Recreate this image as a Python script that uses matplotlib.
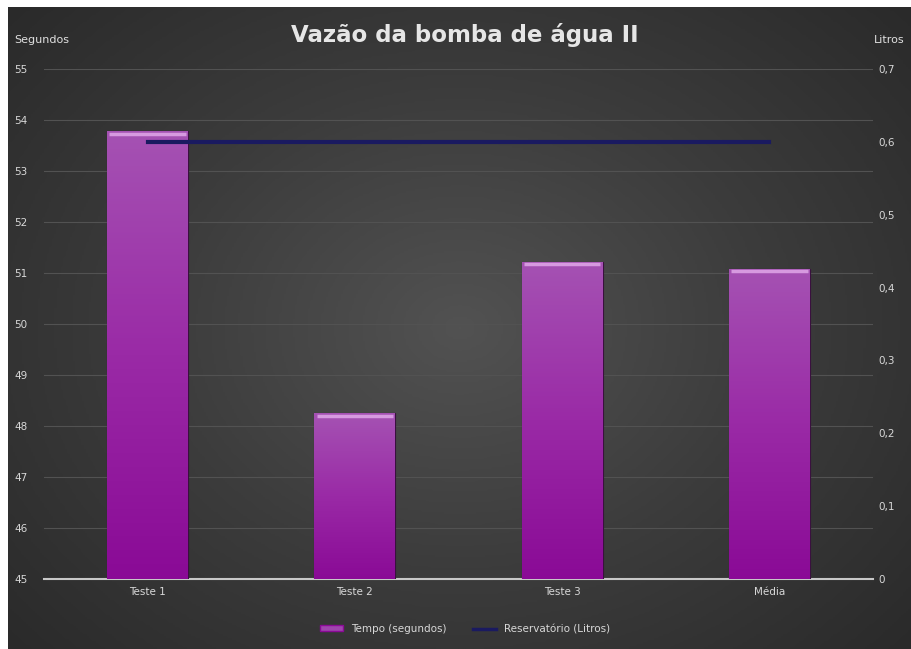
import numpy as np
import matplotlib.pyplot as plt
from matplotlib.lines import Line2D
from matplotlib.patches import Patch
from matplotlib.colors import LinearSegmentedColormap

categorias = ["Teste 1", "Teste 2", "Teste 3", "Média"]
tempo = [53.78, 48.25, 51.22, 51.08]
reservatorio = [0.6, 0.6, 0.6, 0.6]
ticks_esq = [45, 46, 47, 48, 49, 50, 51, 52, 53, 54, 55]
ticks_dir = [0, 0.1, 0.2, 0.3, 0.4, 0.5, 0.6, 0.7]

W, H = 912, 649
fig = plt.figure(figsize=(W / 100, H / 100), dpi=100)
fig.patch.set_facecolor("white")

# fundo escuro com gradiente radial
bg = fig.add_axes([8 / W, 0, 1 - 8 / W, 1 - 7 / H])
yy, xx = np.mgrid[-1:1:300j, -1:1:400j]
r = np.sqrt(xx ** 2 + (yy * 0.9) ** 2)
cm_bg = LinearSegmentedColormap.from_list("fundo", ["#525252", "#3c3c3c", "#2a2a2a"])
bg.imshow(np.clip(r, 0, 1.35), cmap=cm_bg, vmin=0, vmax=1.35,
          aspect="auto", extent=[0, 1, 0, 1])
bg.set_axis_off()

ax = fig.add_axes([44 / W, 1 - 579 / H, (873 - 44) / W, (579 - 69) / H])
ax.patch.set_alpha(0)
x = np.arange(len(categorias))
larg = 0.39
barras = ax.bar(x, [t - 45 for t in tempo], bottom=45, width=larg,
                color="#93279f", edgecolor="#3a103f", linewidth=0.8, zorder=3)

# gradiente nas barras
grad = np.linspace(0, 1, 256).reshape(-1, 1)
cm = LinearSegmentedColormap.from_list("roxo", ["#8a0a96", "#9a2aa6", "#a552b3"])
for b in barras:
    x0, y0 = b.get_x(), b.get_y()
    w, h = b.get_width(), b.get_height()
    im = ax.imshow(grad, cmap=cm, origin="lower", aspect="auto",
                   extent=[x0, x0 + w, y0, y0 + h], zorder=3.1)
    im.set_clip_path(b)
    ax.plot([x0 + 0.01, x0 + w - 0.01], [y0 + h - 0.05] * 2, color="#d79ae0",
            lw=2.5, zorder=3.2, solid_capstyle="butt")

ax.set_xlim(-0.5, len(categorias) - 0.5)
ax.set_ylim(45, 55)
ax.set_yticks(ticks_esq)
ax.set_xticks(x)
ax.set_xticklabels(categorias)
ax.grid(axis="y", color="#525252", lw=0.8, zorder=0)
for s in ["top", "right", "left"]:
    ax.spines[s].set_visible(False)
ax.spines["bottom"].set_color("#c8c8c8")
ax.spines["bottom"].set_linewidth(1.5)
ax.tick_params(length=0, colors="#d8d8d8", labelsize=7.5)
ax.tick_params(axis="x", pad=6)
ax.tick_params(axis="y", pad=12)

ax2 = ax.twinx()
ax2.plot(x, reservatorio, color="#1a1a60", lw=3, zorder=5)
ax2.set_ylim(0, 0.7)
ax2.set_yticks(ticks_dir)
ax2.set_yticklabels([str(t).replace(".", ",") if t else "0" for t in ticks_dir])
for s in ax2.spines.values():
    s.set_visible(False)
ax2.tick_params(length=0, colors="#d8d8d8", labelsize=7.5, pad=4)

fig.text(465 / W, 1 - 35 / H, "Vazão da bomba de água II", ha="center", va="center",
         fontsize=16.5, fontweight="bold", color="#e6e6e6")
fig.text(14 / W, 1 - 40 / H, "Segundos", ha="left", va="center",
         fontsize=8, color="#e0e0e0")
fig.text(905 / W, 1 - 40 / H, "Litros", ha="right", va="center",
         fontsize=8, color="#e0e0e0")

handles = [Patch(facecolor="#a045ae", edgecolor="#8a0a96"),
           Line2D([0], [0], color="#1a1a60", lw=2.5)]
leg = fig.legend(handles, ["Tempo (segundos)", "Reservatório (Litros)"],
                 loc="center", bbox_to_anchor=(465 / W, 1 - 629 / H), ncol=2,
                 frameon=False, fontsize=7.5, labelcolor="#d8d8d8",
                 handlelength=2.2, handleheight=0.5, columnspacing=2.5)

fig.savefig("out.png", dpi=100)
